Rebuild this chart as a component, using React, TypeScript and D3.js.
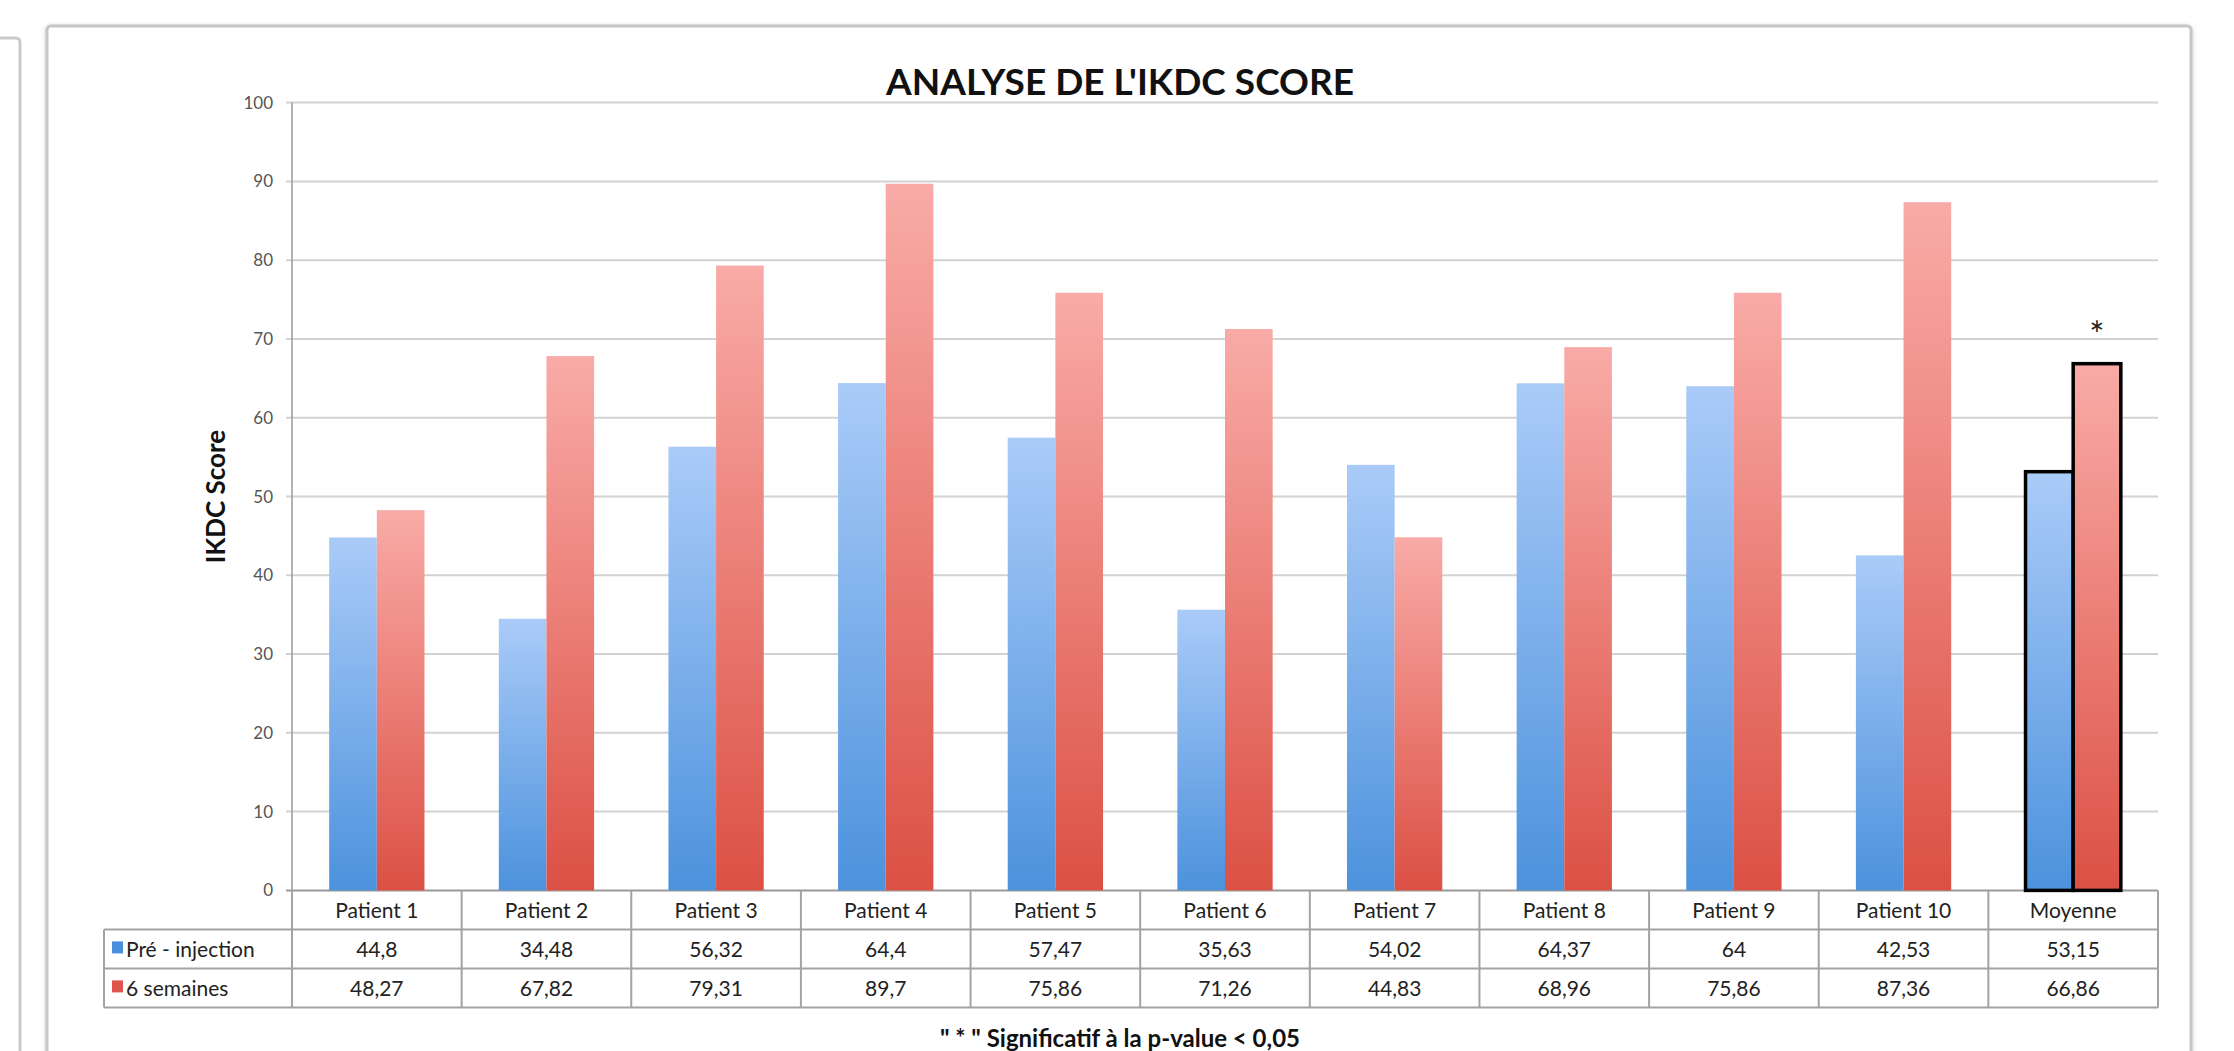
import * as d3 from 'd3';
import React from 'react';

const categories = ['Patient 1', 'Patient 2', 'Patient 3', 'Patient 4', 'Patient 5', 'Patient 6', 'Patient 7', 'Patient 8', 'Patient 9', 'Patient 10', 'Moyenne'];
const seriesNames = ['Pré - injection', '6 semaines'];
const preInjection = [44.8, 34.48, 56.32, 64.4, 57.47, 35.63, 54.02, 64.37, 64, 42.53, 53.15];
const sixWeeks = [48.27, 67.82, 79.31, 89.7, 75.86, 71.26, 44.83, 68.96, 75.86, 87.36, 66.86];
const yTicks = [0, 10, 20, 30, 40, 50, 60, 70, 80, 90, 100];

const W = 2234;
const H = 1051;
const FONT = 'Lato, "Open Sans", sans-serif';

export default function App() {
  const left = 292, right = 2158, top = 102.6, bottom = 890.4;
  const rowH = 39;
  const tableLeft = 104;

  const y = d3.scaleLinear().domain([0, 100]).range([bottom, top]);
  const x0 = d3.scaleBand<string>().domain(categories).range([left, right]).padding(0);
  const x1 = d3.scaleBand<string>().domain(seriesNames).range([0, x0.bandwidth()]).paddingInner(0).paddingOuter(0.78);

  const series = [preInjection, sixWeeks];
  const fills = ['url(#gBlue)', 'url(#gRed)'];
  const keyColors = ['#4a8fdc', '#e0554b'];
  const fmt = (v: number) => String(v).replace('.', ',');

  const lastIdx = categories.length - 1;

  return (
    <div style={{ position: 'absolute', left: 0, top: 0 }}>
      <svg width={W} height={H} style={{ display: 'block', background: '#fff' }}>
        <defs>
          <linearGradient id="gBlue" x1="0" y1="0" x2="0" y2="1">
            <stop offset="0" stopColor="#aacbf8" />
            <stop offset="1" stopColor="#4c92dd" />
          </linearGradient>
          <linearGradient id="gRed" x1="0" y1="0" x2="0" y2="1">
            <stop offset="0" stopColor="#f9aba7" />
            <stop offset="1" stopColor="#dc5044" />
          </linearGradient>
          <filter id="shadow" x="-5%" y="-5%" width="110%" height="110%">
            <feDropShadow dx="0" dy="1" stdDeviation="2" floodColor="#999" floodOpacity="0.5" />
          </filter>
        </defs>

        {/* neighbouring panel edge and chart frame */}
        <rect x={-40} y={38} width={60} height={1100} fill="#fff" stroke="#c9c9c9" strokeWidth={3} rx={4} />
        <rect x={47} y={26} width={2144} height={1100} fill="#fff" stroke="#c6c6c6" strokeWidth={3} rx={4} filter="url(#shadow)" />

        {/* title */}
        <text x={1120} y={95} textAnchor="middle" fontFamily={FONT} fontWeight={700} fontSize={37} fill="#111">
          ANALYSE DE L'IKDC SCORE
        </text>

        {/* gridlines and y ticks */}
        {yTicks.map((t) => (
          <g key={t}>
            <line x1={left - 6} x2={right} y1={y(t)} y2={y(t)} stroke={t === 0 ? '#9a9a9a' : '#d2d2d2'} strokeWidth={2} />
            <text x={left - 19} y={y(t) + 6} textAnchor="end" fontFamily={FONT} fontSize={17} fill="#555">
              {t}
            </text>
          </g>
        ))}
        <line x1={left} x2={left} y1={top} y2={bottom} stroke="#9a9a9a" strokeWidth={1.5} />

        {/* y axis title */}
        <text
          transform={`translate(${225},${(top + bottom) / 2}) rotate(-90)`}
          textAnchor="middle"
          fontFamily={FONT}
          fontWeight={700}
          fontSize={26}
          fill="#111"
        >
          IKDC Score
        </text>

        {/* bars */}
        {categories.map((c, i) => (
          <g key={c} transform={`translate(${x0(c)},0)`}>
            {series.map((vals, s) => (
              <rect
                key={s}
                x={x1(seriesNames[s])}
                y={y(vals[i])}
                width={x1.bandwidth()}
                height={y(0) - y(vals[i])}
                fill={fills[s]}
                stroke={i === lastIdx ? '#000' : 'none'}
                strokeWidth={i === lastIdx ? 3.5 : 0}
              />
            ))}
          </g>
        ))}

        {/* significance star */}
        <text
          x={x0(categories[lastIdx])! + x1(seriesNames[1])! + x1.bandwidth() / 2}
          y={y(sixWeeks[lastIdx]) - 16}
          textAnchor="middle"
          fontFamily={FONT}
          fontSize={36}
          fill="#222"
        >
          *
        </text>

        {/* data table */}
        <g fontFamily={FONT} fill="#222">
          <line x1={tableLeft} x2={right} y1={bottom + rowH} y2={bottom + rowH} stroke="#a3a3a3" strokeWidth={2} />
          <line x1={tableLeft} x2={right} y1={bottom + rowH * 2} y2={bottom + rowH * 2} stroke="#a3a3a3" strokeWidth={2} />
          <line x1={tableLeft} x2={right} y1={bottom + rowH * 3} y2={bottom + rowH * 3} stroke="#a3a3a3" strokeWidth={2} />
          <line x1={tableLeft} x2={tableLeft} y1={bottom + rowH} y2={bottom + rowH * 3} stroke="#a3a3a3" strokeWidth={2} />
          <line x1={right} x2={right} y1={bottom} y2={bottom + rowH * 3} stroke="#a3a3a3" strokeWidth={2} />
          {categories.map((c) => (
            <line key={c} x1={x0(c)!} x2={x0(c)!} y1={bottom} y2={bottom + rowH * 3} stroke="#a3a3a3" strokeWidth={2} />
          ))}
          {categories.map((c) => (
            <text key={c} x={x0(c)! + x0.bandwidth() / 2} y={bottom + rowH / 2 + 8} textAnchor="middle" fontSize={21}>
              {c}
            </text>
          ))}
          {series.map((vals, s) => (
            <g key={s}>
              <rect x={tableLeft + 8} y={bottom + rowH * (s + 1) + 12} width={11} height={12} fill={keyColors[s]} />
              <text x={tableLeft + 22} y={bottom + rowH * (s + 1.5) + 8} fontSize={21}>
                {seriesNames[s]}
              </text>
              {categories.map((c, i) => (
                <text key={c} x={x0(c)! + x0.bandwidth() / 2} y={bottom + rowH * (s + 1.5) + 8} textAnchor="middle" fontSize={21}>
                  {fmt(vals[i])}
                </text>
              ))}
            </g>
          ))}
        </g>

        {/* footnote */}
        <text x={1120} y={1047} textAnchor="middle" fontFamily={FONT} fontWeight={700} fontSize={24} fill="#111">
          " * " Significatif à la p-value &lt; 0,05
        </text>
      </svg>
    </div>
  );
}
